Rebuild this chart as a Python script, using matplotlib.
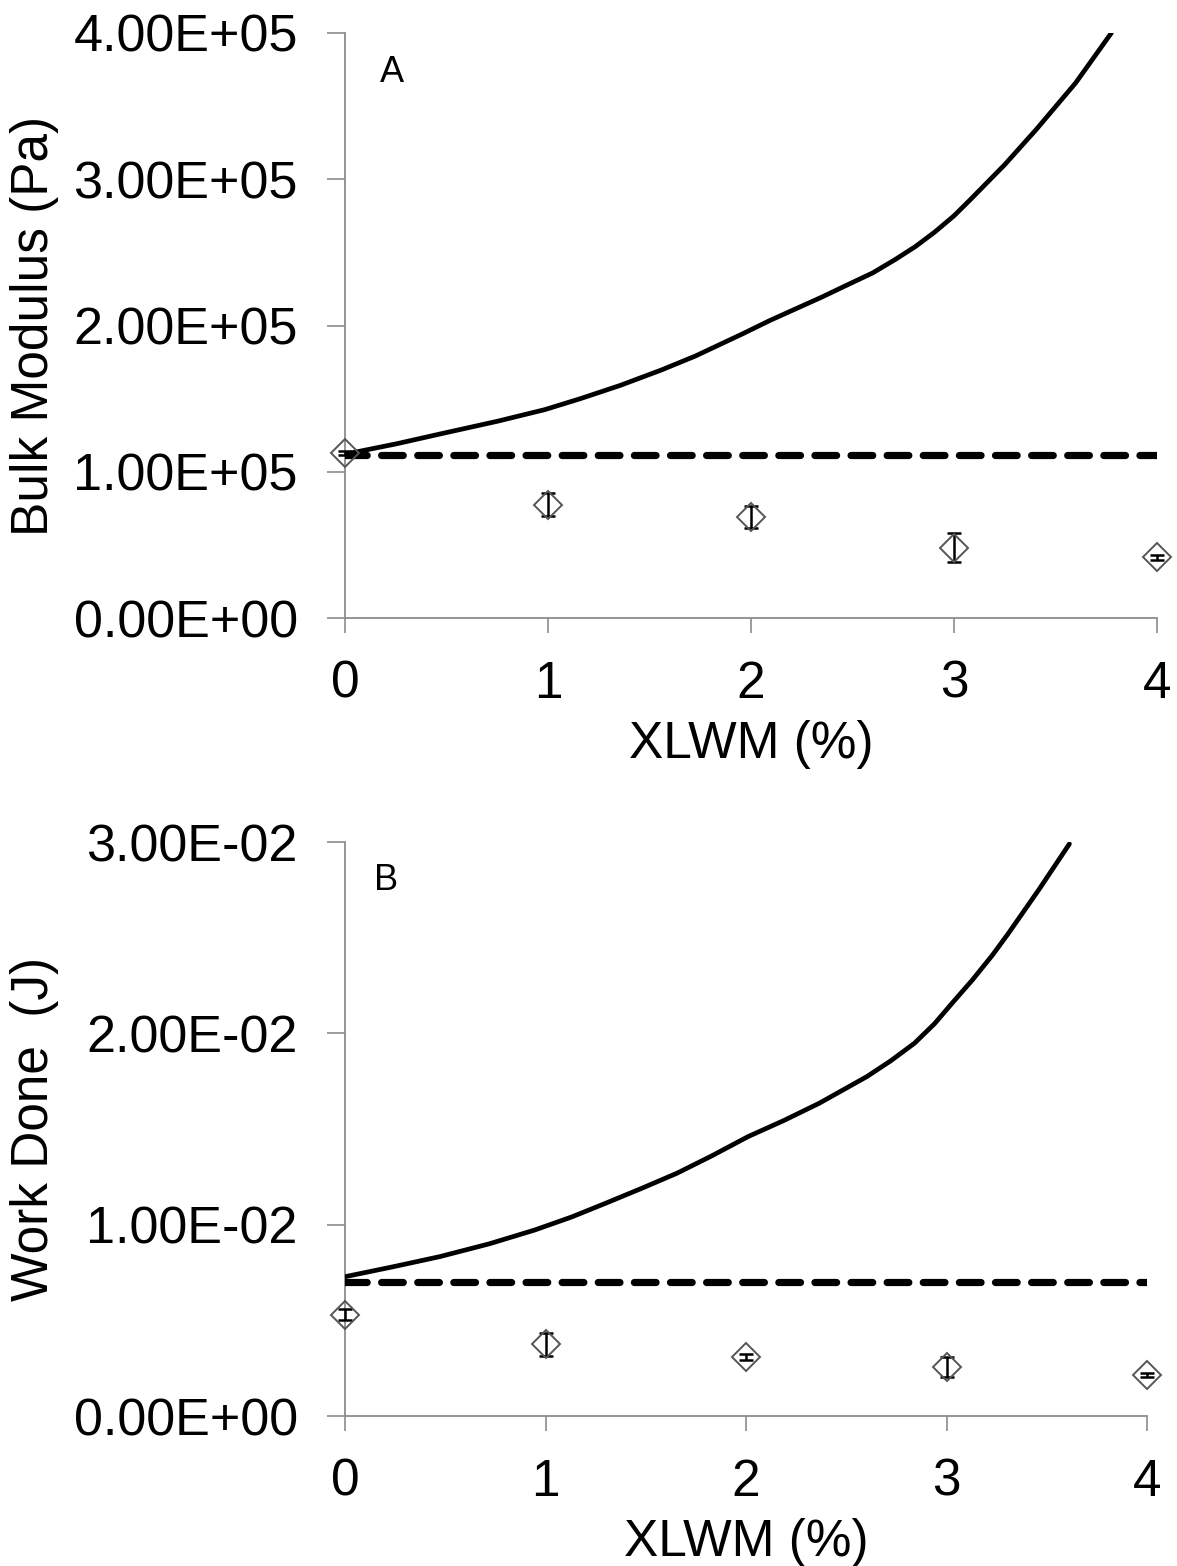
import matplotlib
matplotlib.use("Agg")
import matplotlib.pyplot as plt

# ---------------- data ----------------
xlwm = [0, 1, 2, 3, 4]

# Panel A: bulk modulus (Pa)
bulk_mean = [1.13e5, 0.775e5, 0.69e5, 0.48e5, 0.415e5]
bulk_err = [1500, 8000, 7500, 10000, 1500]
bulk_ref = 1.115e5  # dashed horizontal line
bulk_curve_x = [0.0, 0.25, 0.49, 0.75, 0.985, 1.16, 1.355, 1.557, 1.724, 1.954, 2.094,
                2.35, 2.463, 2.6, 2.709, 2.81, 2.906, 3.0, 3.08, 3.25, 3.405, 3.6, 3.775]
bulk_curve_y = [1.12e5, 1.19e5, 1.265e5, 1.345e5, 1.425e5, 1.50e5, 1.59e5, 1.695e5, 1.79e5,
                1.94e5, 2.035e5, 2.195e5, 2.27e5, 2.36e5, 2.45e5, 2.54e5, 2.64e5, 2.75e5,
                2.86e5, 3.10e5, 3.34e5, 3.66e5, 4.0e5]
bulk_ticks = [0, 1e5, 2e5, 3e5, 4e5]
bulk_ticklabels = ["0.00E+00", "1.00E+05", "2.00E+05", "3.00E+05", "4.00E+05"]

# Panel B: work done (J)
work_mean = [5.3e-3, 3.76e-3, 3.08e-3, 2.56e-3, 2.14e-3]
work_err = [3e-4, 6e-4, 1.5e-4, 5e-4, 1e-4]
work_ref = 7.0e-3
work_curve_x = [0.0, 0.24, 0.473, 0.72, 0.946, 1.13, 1.30, 1.48, 1.656, 1.83, 2.01,
                2.19, 2.366, 2.603, 2.72, 2.84, 2.94, 3.03, 3.13, 3.23, 3.307, 3.46, 3.613]
work_curve_y = [0.728e-2, 0.78e-2, 0.833e-2, 0.90e-2, 0.972e-2, 1.04e-2, 1.112e-2,
                1.19e-2, 1.269e-2, 1.36e-2, 1.46e-2, 1.545e-2, 1.635e-2, 1.774e-2,
                1.855e-2, 1.948e-2, 2.05e-2, 2.16e-2, 2.28e-2, 2.41e-2, 2.52e-2,
                2.75e-2, 2.99e-2]
work_ticks = [0, 1e-2, 2e-2, 3e-2]
work_ticklabels = ["0.00E+00", "1.00E-02", "2.00E-02", "3.00E-02"]

x_ticks = [0, 1, 2, 3, 4]
x_ticklabels = ["0", "1", "2", "3", "4"]

# ---------------- style ----------------
SANS = ["Liberation Sans", "DejaVu Sans"]
plt.rcParams["font.family"] = SANS

fig = plt.figure(figsize=(11.77, 15.66), dpi=100)
axA = fig.add_axes([345 / 1177, 1 - 618 / 1566, 812 / 1177, 585 / 1566])
axB = fig.add_axes([345 / 1177, 1 - 1416 / 1566, 802 / 1177, 574 / 1566])

SPINE = "#8c8c8c"


def style(ax, yticks, yticklabels, ylim, ylabel, letter, ylab_x, let_x):
    ax.set_xlim(0, 4)
    ax.set_ylim(*ylim)
    for s in ["top", "right"]:
        ax.spines[s].set_visible(False)
    for s in ["left", "bottom"]:
        ax.spines[s].set_color(SPINE)
        ax.spines[s].set_linewidth(1.3)
    ax.set_yticks(yticks)
    ax.set_yticklabels(yticklabels, fontsize=37.5)
    ax.set_xticks(x_ticks)
    ax.set_xticklabels(x_ticklabels, fontsize=37)
    ax.tick_params(axis="y", direction="out", length=13, width=1.2, color=SPINE, pad=21)
    ax.tick_params(axis="x", direction="out", length=11, width=1.2, color=SPINE, pad=19)
    ax.set_xlabel("XLWM (%)", fontsize=37, labelpad=8)
    ax.set_ylabel(ylabel, fontsize=37)
    ax.yaxis.set_label_coords(ylab_x, 0.5)
    ax.text(let_x, 0.933, letter, transform=ax.transAxes, fontsize=26,
            ha="center", va="center")
    ax.patch.set_visible(False)


def draw(ax, cx, cy, ref, mean, err):
    ax.plot(cx, cy, color="black", lw=3.4, solid_capstyle="round",
            solid_joinstyle="round", zorder=3)
    ax.plot([0, 4], [ref, ref], color="black", lw=5.2, linestyle=(0, (3.0, 2.0)),
            dash_capstyle="round", zorder=3)
    ax.errorbar(xlwm, mean, yerr=err, fmt="none", ecolor="black", elinewidth=1.8,
                capsize=5, capthick=1.8, zorder=4, clip_on=False)
    ax.plot(xlwm, mean, linestyle="none", marker="D", markersize=14.5,
            markerfacecolor="none", markeredgecolor="#555555", markeredgewidth=1.4,
            zorder=5, clip_on=False)


draw(axA, bulk_curve_x, bulk_curve_y, bulk_ref, bulk_mean, bulk_err)
draw(axB, work_curve_x, work_curve_y, work_ref, work_mean, work_err)

style(axA, bulk_ticks, bulk_ticklabels, (0, 4e5), "Bulk Modulus (Pa)", "A", -0.352, 0.058)
style(axB, work_ticks, work_ticklabels, (0, 3e-2), "Work Done  (J)", "B", -0.356, 0.051)

fig.savefig("out.png", dpi=100, facecolor="white")
